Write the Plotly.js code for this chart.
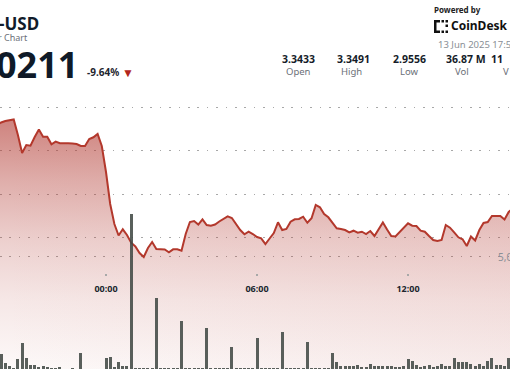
<!DOCTYPE html>
<html><head><meta charset="utf-8">
<script src="https://cdn.plot.ly/plotly-3.0.1.min.js"></script>
<style>html,body{margin:0;padding:0;background:#fff;}#chart{width:510px;height:369px;}</style>
</head><body><div id="chart"></div>
<script>
// ---- data (10-minute points, first point 2025-06-12 19:40) ----
const startTime = Date.UTC(2025, 5, 12, 19, 40, 0);
const stepMinutes = 10;
const prices = [
 3.3591,3.3648,3.3683,3.3706,3.3717,3.3361,3.2947,3.3131,3.3115,3.3315,
 3.3487,3.3322,3.3322,3.3147,3.3207,3.3170,3.3177,3.3170,3.3166,3.3154,
 3.3108,3.3108,3.3269,3.3308,3.3384,3.3108,3.2510,3.1775,3.1315,3.1051,
 3.1193,3.1062,3.0885,3.0798,3.0648,3.0556,3.0763,3.0901,3.0740,3.0740,
 3.0729,3.0664,3.0733,3.0733,3.0701,3.1085,3.1361,3.1384,3.1303,3.1423,
 3.1292,3.1276,3.1303,3.1372,3.1430,3.1492,3.1453,3.1303,3.1177,3.1078,
 3.1138,3.1085,3.1016,3.0986,3.0855,3.0982,3.1108,3.1354,3.1177,3.1200,
 3.1368,3.1423,3.1430,3.1483,3.1345,3.1446,3.1752,3.1699,3.1545,3.1469,
 3.1354,3.1216,3.1200,3.1177,3.1124,3.1161,3.1115,3.1138,3.1085,3.1154,
 3.1039,3.1200,3.1349,3.1189,3.1039,3.1028,3.1131,3.1234,3.1331,3.1276,
 3.1269,3.1161,3.1138,3.1039,3.0947,3.0924,3.0947,3.1292,3.1230,3.1124,
 3.1009,3.0963,3.0809,3.1028,3.0936,3.1177,3.1338,3.1361,3.1499,3.1499,
 3.1499,3.1418,3.1591,3.1683
];
// volume in thousands
const volumes = [
 300,668,267,134,45,445,1144,476,178,178,
 89,134,89,45,45,89,20,20,25,20,
 700,15,15,15,15,15,503,548,89,298,
 134,134,6923,25,25,25,25,25,3148,25,
 25,25,25,25,2150,25,25,25,25,25,
 1839,25,25,25,25,25,966,25,25,25,
 25,25,1367,25,25,25,25,25,1634,25,
 25,25,25,25,1189,25,25,25,25,25,
 699,325,134,134,134,134,178,89,89,223,
 134,134,134,134,134,89,89,134,432,356,
 178,89,134,178,89,134,223,134,134,503,
 312,312,312,223,134,223,134,370,490,178,
 178,134,490,200
];
const priceTicks = [3.1, 3.2, 3.3, 3.4];
const volumeTicks = [5000];
const statValues = ['3.3433', '3.3491', '2.9556', '36.87 M', '11'];
const statLabels = ['Open', 'High', 'Low', 'Vol', 'V'];

function fmt(ms){ return new Date(ms).toISOString().replace('T',' ').slice(0,19); }
const times = prices.map((_, i) => fmt(startTime + i * stepMinutes * 60000));
const xStart = Date.UTC(2025, 5, 12, 19, 47, 19), xEnd = Date.UTC(2025, 5, 13, 16, 3, 4);

const W = 510, H = 369;
const px = v => v / W, py = v => 1 - v / H;
const FONT = 'Noto Sans, Open Sans, sans-serif';

function ann(text, x, y, size, color, opts) {
  return Object.assign({xref:'paper', yref:'paper', x:px(x), y:py(y), text:text, showarrow:false, borderpad:0,
    xanchor:'left', yanchor:'middle', font:{family:FONT, size:size, color:color}}, opts || {});
}
const bold = (o) => { o.font.weight = 700; return o; };

const annotations = [
  bold(ann('-USD', 40, 23, 17, '#111c2a', {xanchor:'right', height:18})),
  ann('r Chart', 28.5, 37.5, 9, '#6b7078', {xanchor:'right', height:10}),
  bold(ann('0211', 79, 64, 36, '#0f1a28', {xanchor:'right', height:34})),
  bold(ann('-9.64%', 103, 72, 10, '#1f2630', {xanchor:'center'})),
  ann('▼', 127.5, 72.5, 12, '#b3261c', {xanchor:'center'}),
  bold(ann('Powered by', 433, 9.5, 8, '#222222')),
  bold(ann('CoinDesk', 450, 26, 12, '#111111')),
  ann('13 Jun 2025 17:54', 437, 44.5, 9.5, '#8a8f96'),
  ann('5,0', 497, 257, 10, '#8a8f96'),
];
const statX = [298, 353, 409.5, 465.5, 490];
statValues.forEach((t, i) => annotations.push(bold(ann(t, statX[i], 59, 10.5, '#151d29', {xanchor: i < 4 ? 'center' : 'left'}))));
const labX = [298, 351, 409.5, 462, 502];
statLabels.forEach((t, i) => annotations.push(ann(t, labX[i], 71, 9.5, '#6b7078', {xanchor: i < 4 ? 'center' : 'left'})));

function rect(x0, y0, x1, y1) {
  return {type:'rect', xref:'paper', yref:'paper', x0:px(x0), x1:px(x1), y0:py(y1), y1:py(y0),
    fillcolor:'#111', line:{width:0}, layer:'above'};
}
const shapes = [
  rect(434, 20, 436.5, 33), rect(434, 20, 440, 22.5), rect(434, 30.5, 440, 33),
  rect(441.5, 20, 444, 22.5), rect(445.5, 20, 448, 22.5), rect(445.5, 24.5, 448, 27),
  rect(441.5, 30.5, 444, 33), rect(445.5, 30.5, 448, 33)
];

const grid = {showgrid:true, gridcolor:'#a8a8a8', gridwidth:1, griddash:'1.5px,7.9px', zeroline:false, showticklabels:false, ticks:'', fixedrange:true};

const traces = [
  {type:'scatter', mode:'lines', x:times, y:prices, line:{width:0}, fill:'tozeroy',
   fillgradient:{type:'horizontal', start:xStart, stop:xEnd,
     colorscale:[[0,'rgba(178,58,50,0)'],[1,'rgba(178,58,50,0.07)']]},
   hoverinfo:'skip'},
  {type:'scatter', mode:'lines', x:times, y:prices, line:{color:'#b3382c', width:2}, fill:'tozeroy',
   fillgradient:{type:'vertical', start:2.7982, stop:3.372,
     colorscale:[[0,'rgba(178,58,50,0.03)'],[0.276,'rgba(178,58,50,0.12)'],[0.515,'rgba(178,58,50,0.24)'],[0.752,'rgba(178,58,50,0.41)'],[1,'rgba(178,58,50,0.63)']]},
   hoverinfo:'skip'},
  {type:'bar', x:times, y:volumes, yaxis:'y2', width:429000, marker:{color:'rgba(66,74,70,0.88)', line:{width:0}}, hoverinfo:'skip'}
];

const layout = {
  width:W, height:H, margin:{l:0, r:0, t:0, b:0}, paper_bgcolor:'#ffffff', plot_bgcolor:'rgba(0,0,0,0)',
  showlegend:false, hovermode:false, bargap:0,
  xaxis:{type:'date', range:[fmt(xStart), fmt(xEnd)], anchor:'free', position:(H-273)/H,
    tick0:'2025-06-13 00:00:00', dtick:6*3600000, tickformat:'%H:%M', ticks:'outside', ticklen:2, tickwidth:2, tickcolor:'#a8a8a8',
    showline:false, showgrid:false, zeroline:false, fixedrange:true, ticklabelstandoff:5,
    tickfont:{family:FONT, size:9, color:'#20262e', weight:700}},
  yaxis:Object.assign({range:[2.7982, 3.6464], tickvals:priceTicks, side:'right'}, grid),
  yaxis2:Object.assign({range:[0, 16430], tickvals:volumeTicks, overlaying:'y', side:'right'}, grid),
  annotations:annotations, shapes:shapes
};
Plotly.newPlot('chart', traces, layout, {staticPlot:true, displayModeBar:false});
</script></body></html>
